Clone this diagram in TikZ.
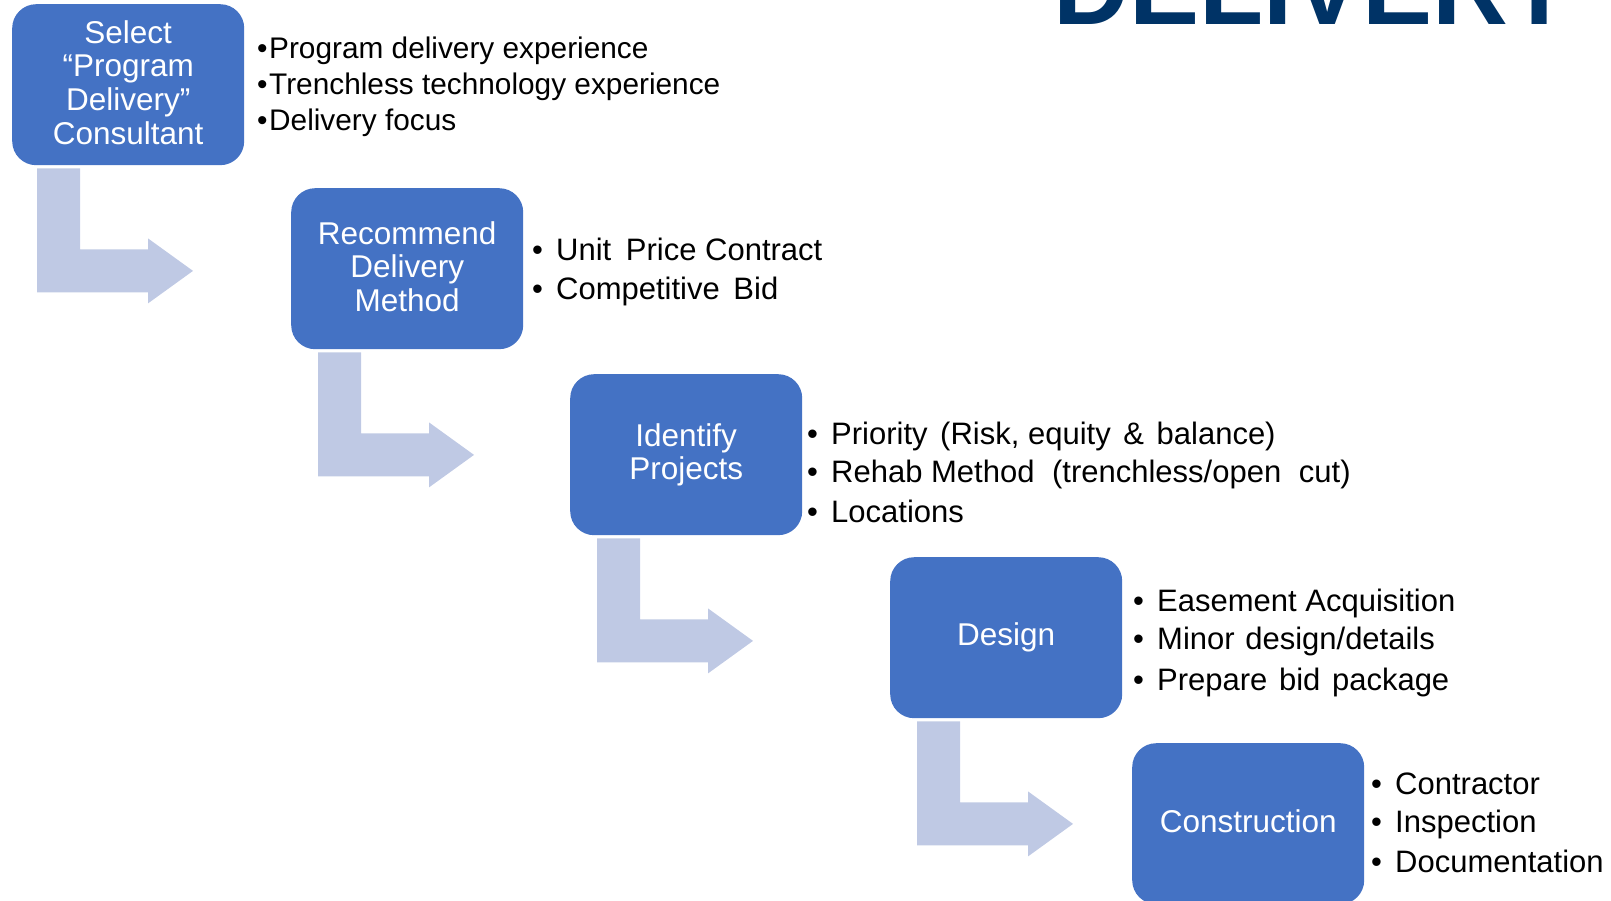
\documentclass[tikz,border=0pt]{standalone}
\usepackage{fontspec}
\setmainfont{Liberation Sans}
\usetikzlibrary{calc}

\definecolor{boxblue}{RGB}{68,114,196}
\definecolor{arrowgray}{RGB}{191,201,228}
\definecolor{titlenavy}{RGB}{0,51,102}

\tikzset{
  stepbox/.style={fill=boxblue, draw=none, rounded corners=24pt,
    minimum width=232pt, minimum height=161pt, inner sep=0pt,
    text=white, align=center, anchor=north west,
    font=\fontsize{31.5}{33.6}\selectfont,
    execute at end node={\rule[-5pt]{0pt}{0pt}}},
  bendarrow/.style={fill=arrowgray, draw=none},
  pointbig/.style={anchor=base west, inner sep=0pt, text=black,
    font=\fontsize{31}{38}\selectfont},
  pointsmall/.style={anchor=base west, inner sep=0pt, text=black,
    font=\fontsize{29.8}{36}\selectfont},
  headline/.style={anchor=base west, inner sep=0pt, text=titlenavy,
    font=\fontsize{105}{110}\selectfont\bfseries},
}

% bent block arrow hanging below a step box: box name, horizontal offset
\newcommand\bentarrow[2]{%
  \fill[bendarrow] ($(#1.south west)+(#2,3)$) -- ++(43,0) -- ++(0,81)
    -- ++(68,0) -- ++(0,-11) -- ++(45,32.5) -- ++(-45,32.5) -- ++(0,-11)
    -- ++(-111,0) -- cycle;}

% one bulleted line: name, x of bullet box, baseline y, text
\newcommand\bigpoint[4]{\node[pointbig] (#1) at (#2,#3) {\makebox[24pt][l]{•}#4};}
\newcommand\smallpoint[4]{\node[pointsmall] (#1) at (#2,#3) {\makebox[12pt][l]{•}#4};}
\newcommand\xs[1]{\hspace{#1pt}}

\begin{document}
\begin{tikzpicture}[x=1pt, y=-1pt]
  \useasboundingbox (0,0) rectangle (1611,901);

  % heading, mostly above the page edge
  \node[headline] (title) at (1053,25) {DELIVERY};

  % step boxes
  \node[stepbox] (b1) at (12,4)    {Select\\“Program\\Delivery”\\Consultant};
  \node[stepbox] (b2) at (291,188) {Recommend\\Delivery\\Method};
  \node[stepbox] (b3) at (570,374) {Identify\\Projects};
  \node[stepbox] (b4) at (890,557) {Design};
  \node[stepbox] (b5) at (1132,743) {Construction};

  % arrows leading from each box to the next
  \bentarrow{b1}{25}
  \bentarrow{b2}{27}
  \bentarrow{b3}{27}
  \bentarrow{b4}{27}

  % bullet points
  \smallpoint{p1a}{257}{59}{Program delivery experience}
  \smallpoint{p1b}{257}{95}{Trenchless technology experience}
  \smallpoint{p1c}{257}{131}{Delivery focus}

  \bigpoint{p2a}{532}{261}{Unit \xs{6}Price Contract}
  \bigpoint{p2b}{532}{299}{Competitive \xs{5}Bid}

  \bigpoint{p3a}{807}{444}{Priority \xs{4}(Risk, equity \xs{4}\& \xs{4}balance)}
  \bigpoint{p3b}{807}{482}{Rehab Method \xs{9}(trenchless/open \xs{9}cut)}
  \bigpoint{p3c}{807}{522.5}{Locations}

  \bigpoint{p4a}{1133}{611}{Easement Acquisition}
  \bigpoint{p4b}{1133}{649}{Minor \xs{2}design/details}
  \bigpoint{p4c}{1133}{690}{Prepare \xs{3}bid \xs{3}package}

  \bigpoint{p5a}{1371}{794}{Contractor}
  \bigpoint{p5b}{1371}{832}{Inspection}
  \bigpoint{p5c}{1371}{872}{Documentation}
\end{tikzpicture}
\end{document}
